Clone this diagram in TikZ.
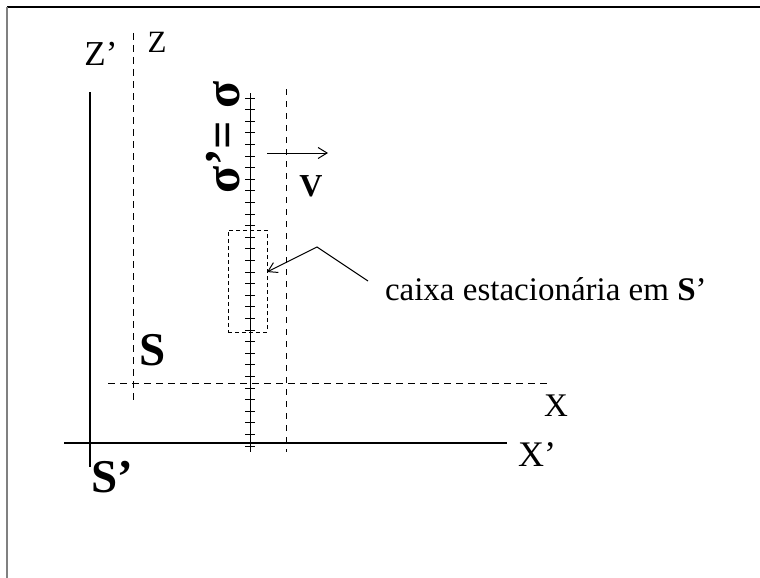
\documentclass[tikz,border=0pt]{standalone}
\usepackage{fontspec}
\setmainfont{Liberation Serif}
\usetikzlibrary{positioning,arrows.meta}

\begin{document}
\begin{tikzpicture}[x=1pt, y=-1pt, every node/.style={inner sep=0pt, outer sep=0pt},
  axis/.style={line width=1.4pt},
  guide/.style={line width=1pt, dash pattern=on 7pt off 5pt},
  boxline/.style={line width=0.8pt, dash pattern=on 4pt off 3pt},
  pointer/.style={-{Straight Barb[length=9pt,width=11pt]}, line width=1pt},
  lbl/.style={font=\fontsize{30}{30}\selectfont}]
\useasboundingbox (0,0) rectangle (760,578);
\draw[line width=1.3pt] (7,7) -- (760,7);
\draw[line width=1.3pt, gray] (7,7) -- (7,578);

% frame S' (solid)
\coordinate (zptop) at (90,92);
\coordinate (zpbot) at (90,467);
\coordinate (xpleft) at (64,443);
\coordinate (xpright) at (507,443);
\draw[axis] (zptop) -- (zpbot);
\draw[axis] (xpleft) -- (xpright);

% frame S (dashed)
\coordinate (ztop) at (133,33);
\coordinate (zbot) at (133,400);
\coordinate (xleft) at (108,383);
\coordinate (xright) at (550,383);
\draw[guide] (ztop) -- (zbot);
\draw[guide] (xleft) -- (xright);

% ruler sigma
\coordinate (rtop) at (250,93);
\coordinate (rbot) at (250,452);
\draw[line width=1pt] (rtop) -- (rbot);
\foreach \k in {0,...,30}
  \draw[line width=1pt] (245,{98+11.6*\k}) -- (255,{98+11.6*\k});

% moving line
\coordinate (mtop) at (286,89);
\coordinate (mbot) at (286,452);
\draw[guide, dash pattern=on 6pt off 6pt] (mtop) -- (mbot);

% velocity
\coordinate (vstart) at (267,153);
\coordinate (vend) at (328,153);
\draw[pointer] (vstart) -- (vend);
\node[font=\fontsize{32}{32}\selectfont\bfseries] (v) at (311,186) {V};

% box
\node[boxline, draw, minimum width=39pt, minimum height=102pt] (caixa) at (247.5,281) {};
\node[font=\fontsize{33}{33}\selectfont, anchor=west] (caixalbl) at (385,289) {caixa estacionária em \textbf{S}’};
\coordinate (knee) at (317,247);
\coordinate (lend) at (368,281);
\draw[pointer] (lend) -- (knee) -- ([yshift=9pt]caixa.east);

% labels
\node[font=\fontsize{50}{50}\selectfont\bfseries, rotate=90] (sigma) at (223,137) {σ’= σ};
\node[font=\fontsize{35}{35}\selectfont] (zp) at (101,54) {Z’};
\node[font=\fontsize{31}{31}\selectfont] (z) at (157,42) {Z};
\node[font=\fontsize{47}{47}\selectfont\bfseries] (s) at (153,350) {S};
\node[font=\fontsize{47}{47}\selectfont\bfseries] (sp) at (112,477) {S’};
\node[font=\fontsize{33}{33}\selectfont] (x) at (556,406) {X};
\node[font=\fontsize{36}{36}\selectfont] (xp) at (537,455) {X’};
\end{tikzpicture}
\end{document}
